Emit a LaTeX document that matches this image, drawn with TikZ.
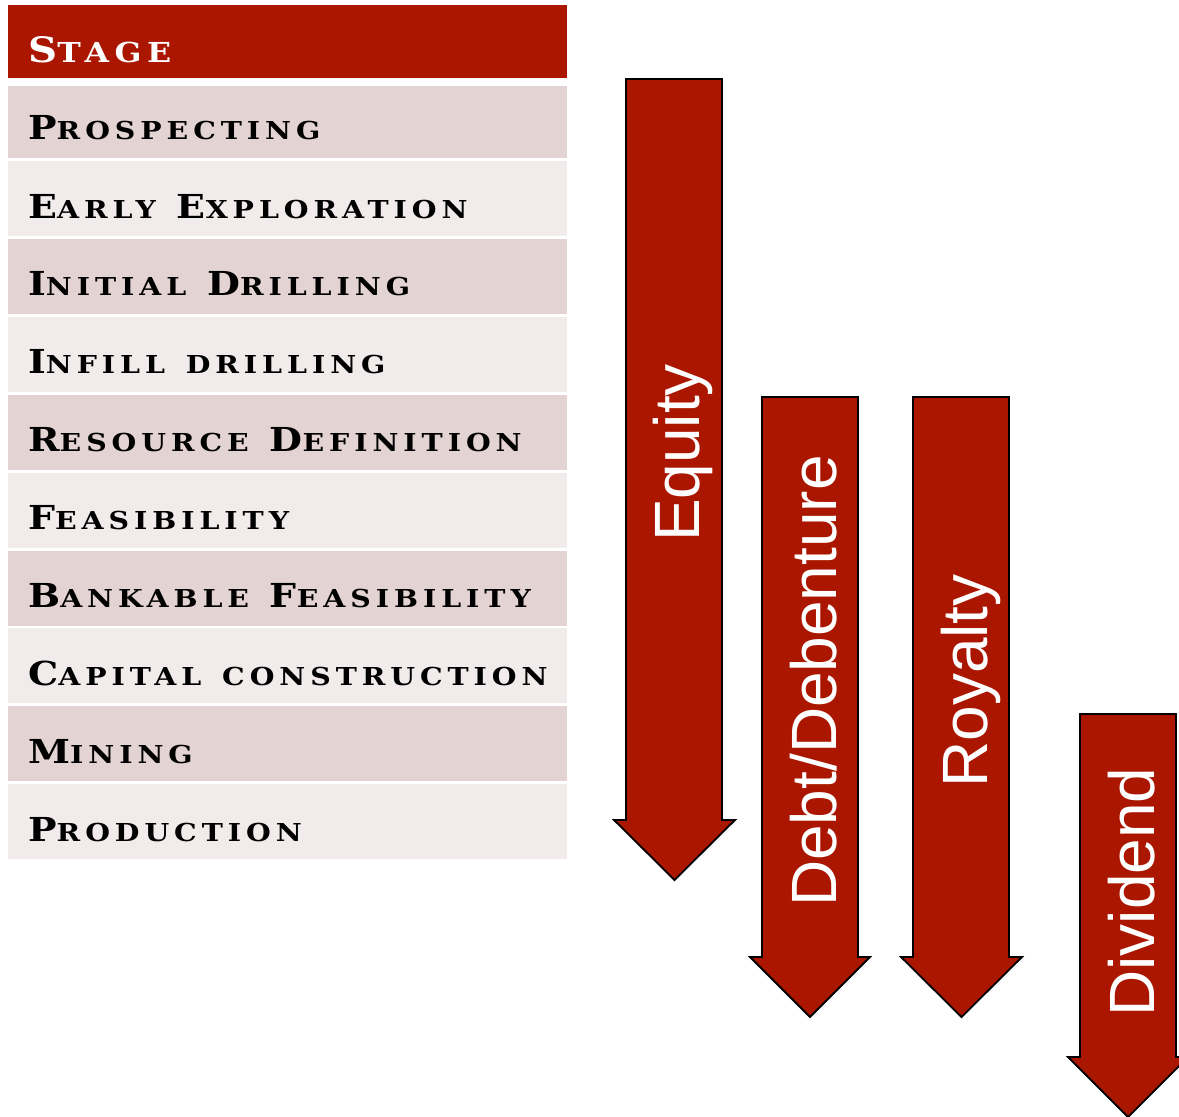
\documentclass[tikz,border=0pt]{standalone}
\usepackage{fontspec}
\newfontfamily\stagefont{DejaVu Serif}[LetterSpace=20,FakeStretch=1.15]
\newfontfamily\arrowfont{Liberation Sans}
\definecolor{stagered}{RGB}{170,22,0}
\definecolor{rowdark}{RGB}{228,211,211}
\definecolor{rowlight}{RGB}{242,235,235}
\newcommand\stg[2]{{\fontsize{33}{33}\selectfont #1}{\fontsize{24.7}{24.7}\selectfont #2}}
\newcommand\stgbig[2]{{\fontsize{35}{35}\selectfont #1}{\fontsize{27.5}{27.5}\selectfont #2}}
\newcommand\wsp{\ \hspace{6pt}}
\begin{document}
\begin{tikzpicture}[x=1pt,y=-1pt,
  rowbox/.style={draw=none, inner sep=0pt, outer sep=0pt, minimum width=559pt, minimum height=75pt, anchor=north west},
  stagetext/.style={font=\stagefont\bfseries\fontsize{24.7}{24.7}\selectfont, inner sep=0pt, anchor=base west, text=black},
  arrowbody/.style={fill=stagered, draw=black, line width=1.8pt, line join=miter},
  arrowtext/.style={font=\arrowfont\fontsize{64}{64}\selectfont, text=white, rotate=90, anchor=base, inner sep=0pt}]
\useasboundingbox (0,0) rectangle (1179,1117);
\clip (0,0) rectangle (1179,1117);
% header
\node[rowbox, fill=stagered, minimum height=73pt] (head) at (8,5) {};
\node[stagetext, text=white] (headt) at (28,62) {\stgbig{S}{TAGE}};
% rows
\node[rowbox, fill=rowdark, minimum height=72pt] (r1) at (8,86) {};
\node[rowbox, fill=rowlight] (r2) at (8,161) {};
\node[rowbox, fill=rowdark] (r3) at (8,239) {};
\node[rowbox, fill=rowlight] (r4) at (8,317) {};
\node[rowbox, fill=rowdark] (r5) at (8,395) {};
\node[rowbox, fill=rowlight] (r6) at (8,473) {};
\node[rowbox, fill=rowdark] (r7) at (8,551) {};
\node[rowbox, fill=rowlight] (r8) at (8,628) {};
\node[rowbox, fill=rowdark] (r9) at (8,706) {};
\node[rowbox, fill=rowlight, minimum height=75pt] (r10) at (8,784) {};
\node[stagetext] (t1) at (28,139) {\stg{P}{ROSPECTING}};
\node[stagetext] (t2) at (28,218) {\stg{E}{ARLY}\wsp\stg{E}{XPLORATION}};
\node[stagetext] (t3) at (28,295) {\stg{I}{NITIAL}\wsp\stg{D}{RILLING}};
\node[stagetext] (t4) at (28,373) {\stg{I}{NFILL\wsp DRILLING}};
\node[stagetext] (t5) at (28,451) {\stg{R}{ESOURCE}\wsp\stg{D}{EFINITION}};
\node[stagetext] (t6) at (28,529) {\stg{F}{EASIBILITY}};
\node[stagetext] (t7) at (28,607) {\stg{B}{ANKABLE}\wsp\stg{F}{EASIBILITY}};
\node[stagetext] (t8) at (28,685) {\stg{C}{APITAL\wsp CONSTRUCTION}};
\node[stagetext] (t9) at (28,763) {\stg{M}{INING}};
\node[stagetext] (t10) at (28,841) {\stg{P}{RODUCTION}};
% arrows
\draw[arrowbody] (626,79) -- (722,79) -- (722,820) -- (735,820) -- (674.5,880) -- (614,820) -- (626,820) -- cycle;
\draw[arrowbody] (762,397) -- (858,397) -- (858,957) -- (870,957) -- (810,1017) -- (750,957) -- (762,957) -- cycle;
\draw[arrowbody] (913,397) -- (1009,397) -- (1009,957) -- (1022,957) -- (961.5,1017) -- (901,957) -- (913,957) -- cycle;
\draw[arrowbody] (1080,714) -- (1176,714) -- (1176,1057) -- (1188,1057) -- (1128,1117) -- (1068,1057) -- (1080,1057) -- cycle;
\node[arrowtext] (equity) at (699,453) {Equity};
\node[arrowtext] (debt) at (836,681) {Debt/Debenture};
\node[arrowtext] (royalty) at (987,681) {Royalty};
\node[arrowtext] (dividend) at (1154,892) {Dividend};
\end{tikzpicture}
\end{document}
